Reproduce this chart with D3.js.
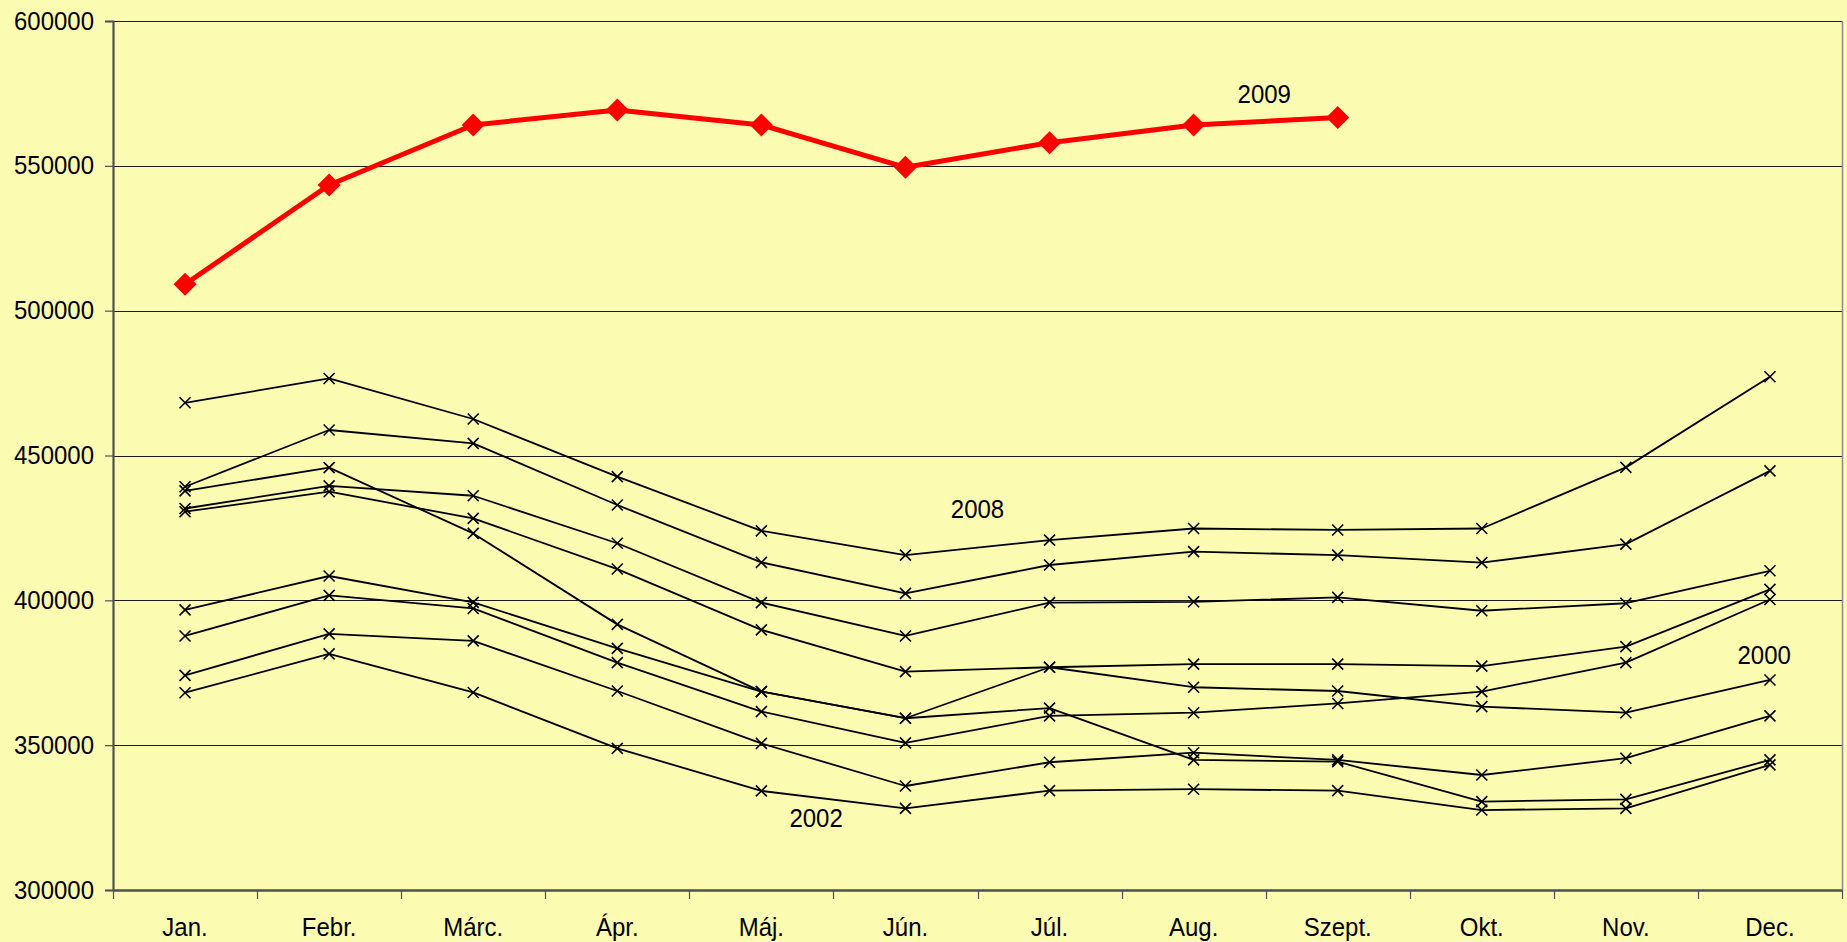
<!DOCTYPE html>
<html>
<head>
<meta charset="utf-8">
<script src="https://cdn.jsdelivr.net/npm/d3@7"></script>
<style>
  html, body { margin: 0; padding: 0; background: #FCFBB2; }
  svg { display: block; }
  text { font-family: "Liberation Sans", Arial, sans-serif; fill: #000; }
</style>
</head>
<body>
<svg id="chart" width="1847" height="942"></svg>
<script>
// ---- Data ----
const months = ["Jan.", "Febr.", "Márc.", "Ápr.", "Máj.", "Jún.", "Júl.", "Aug.", "Szept.", "Okt.", "Nov.", "Dec."];
const yTicks = [300000, 350000, 400000, 450000, 500000, 550000, 600000];

const y2009 = [509100, 543400, 564100, 569300, 564100, 549500, 558000, 564100, 566700];
const y2008 = [468200, 476600, 462600, 442700, 424000, 415600, 420800, 424800, 424300, 424800, 445900, 477200];
const y2007 = [439200, 458800, 454200, 432900, 413100, 402400, 412200, 416800, 415600, 413000, 419400, 444700];
const y2006 = [431700, 439500, 436100, 419700, 399200, 387700, 399200, 399500, 401000, 396400, 399000, 410200];
const y2005 = [430600, 437500, 428300, 410800, 389800, 375400, 376900, 378000, 378000, 377300, 384000, 403800];
const y2004 = [387700, 401700, 397200, 378500, 361600, 350800, 360100, 361200, 364400, 368500, 378500, 400300];
const y2003 = [374100, 388400, 386000, 368700, 350600, 335900, 344100, 347400, 344900, 339700, 345500, 360100];
const y2002 = [368100, 381500, 368200, 348900, 334200, 328200, 334300, 334800, 334300, 327600, 328200, 343200];
const y2001 = [396700, 408400, 399300, 383400, 368500, 359300, 362800, 344900, 344300, 330500, 331300, 344900];
const y2000 = [437800, 445800, 423100, 391700, 368500, 359300, 376900, 370000, 368700, 363300, 361200, 372500];

const blackSeries = [y2000, y2001, y2002, y2003, y2004, y2005, y2006, y2007, y2008];

// annotation labels: text, fractional month position, value
const labelText = ["2009", "2008", "2002", "2000"];
const labelPos = [7.49, 5.5, 4.38, 10.96];
const labelVal = [571700, 428400, 321700, 378000];

// ---- Layout ----
const svg = d3.select("#chart");
const pLeft = 113, pRight = 1842, pTop = 21, pBottom = 890;

const x = d3.scaleBand().domain(months).range([pLeft, pRight]).padding(0);
const cx = m => x(m) + x.bandwidth() / 2;
const y = d3.scaleLinear().domain([300000, 600000]).range([pBottom, pTop]);

// gridlines
svg.append("g")
  .selectAll("line")
  .data(yTicks.filter(v => v > 300000))
  .join("line")
  .attr("x1", pLeft).attr("x2", pRight)
  .attr("y1", d => Math.round(y(d)) + 0.5).attr("y2", d => Math.round(y(d)) + 0.5)
  .attr("stroke", "#1a1a1a").attr("stroke-width", 1);

// right border
svg.append("line")
  .attr("x1", pRight + 0.5).attr("x2", pRight + 0.5)
  .attr("y1", pTop).attr("y2", pBottom)
  .attr("stroke", "#8a8a8a").attr("stroke-width", 1.5);

// Y axis
const yAxis = d3.axisLeft(y).tickValues(yTicks).tickSize(8).tickPadding(11).tickFormat(d3.format("d"));
const gy = svg.append("g").attr("transform", `translate(${pLeft},0)`).call(yAxis);
gy.select(".domain").attr("stroke", "#505050").attr("stroke-width", 2.2);
gy.selectAll(".tick line").attr("stroke", "#505050").attr("stroke-width", 1.2);
gy.selectAll(".tick text")
  .attr("font-size", 24)
  .attr("font-family", "Liberation Sans, Arial, sans-serif")
  .attr("dy", null).attr("y", 0)
  .attr("transform", "translate(0,8) scale(1,1.1)")
  .attr("x", -19);

// X axis
const xAxis = d3.axisBottom(x).tickSize(0).tickPadding(0);
const gx = svg.append("g").attr("transform", `translate(0,${pBottom})`).call(xAxis);
gx.select(".domain").attr("stroke", "#505050").attr("stroke-width", 2.5);
gx.selectAll(".tick text")
  .attr("font-size", 24)
  .attr("font-family", "Liberation Sans, Arial, sans-serif")
  .attr("dy", null)
  .attr("y", 0)
  .attr("transform", "translate(0,46) scale(1,1.1)");
// category separator ticks
const bounds = months.map(m => x(m)).concat([pRight]);
svg.append("g").selectAll("line").data(bounds).join("line")
  .attr("x1", d => Math.round(d) + 0.5).attr("x2", d => Math.round(d) + 0.5)
  .attr("y1", pBottom).attr("y2", pBottom + 9)
  .attr("stroke", "#505050").attr("stroke-width", 1.2);

// black series
const line = d3.line().x((d, i) => cx(months[i])).y(d => y(d));
const gBlack = svg.append("g");
blackSeries.forEach(s => {
  gBlack.append("path")
    .attr("d", line(s))
    .attr("fill", "none").attr("stroke", "#000").attr("stroke-width", 1.8)
    .attr("stroke-linejoin", "round");
});
blackSeries.forEach(s => {
  gBlack.append("g").selectAll("path").data(s).join("path")
    .attr("d", (d, i) => {
      const px = cx(months[i]), py = y(d), r = 5.5;
      return `M${px - r},${py - r}L${px + r},${py + r}M${px - r},${py + r}L${px + r},${py - r}`;
    })
    .attr("stroke", "#000").attr("stroke-width", 1.6).attr("fill", "none");
});

// red series 2009
svg.append("path")
  .attr("d", line(y2009))
  .attr("fill", "none").attr("stroke", "#FF0000").attr("stroke-width", 5)
  .attr("stroke-linejoin", "round");
svg.append("g").selectAll("path").data(y2009).join("path")
  .attr("d", (d, i) => {
    const px = cx(months[i]), py = y(d), r = 11.5;
    return `M${px},${py - r}L${px + r},${py}L${px},${py + r}L${px - r},${py}Z`;
  })
  .attr("fill", "#FF0000");

// annotation labels
const step = x.bandwidth();
svg.append("g").selectAll("text").data(labelText).join("text")
  .attr("text-anchor", "middle")
  .attr("font-size", 24)
  .attr("transform", (d, i) => `translate(${cx(months[0]) + labelPos[i] * step},${y(labelVal[i])}) scale(1,1.06)`)
  .text(d => d);
</script>
</body>
</html>
